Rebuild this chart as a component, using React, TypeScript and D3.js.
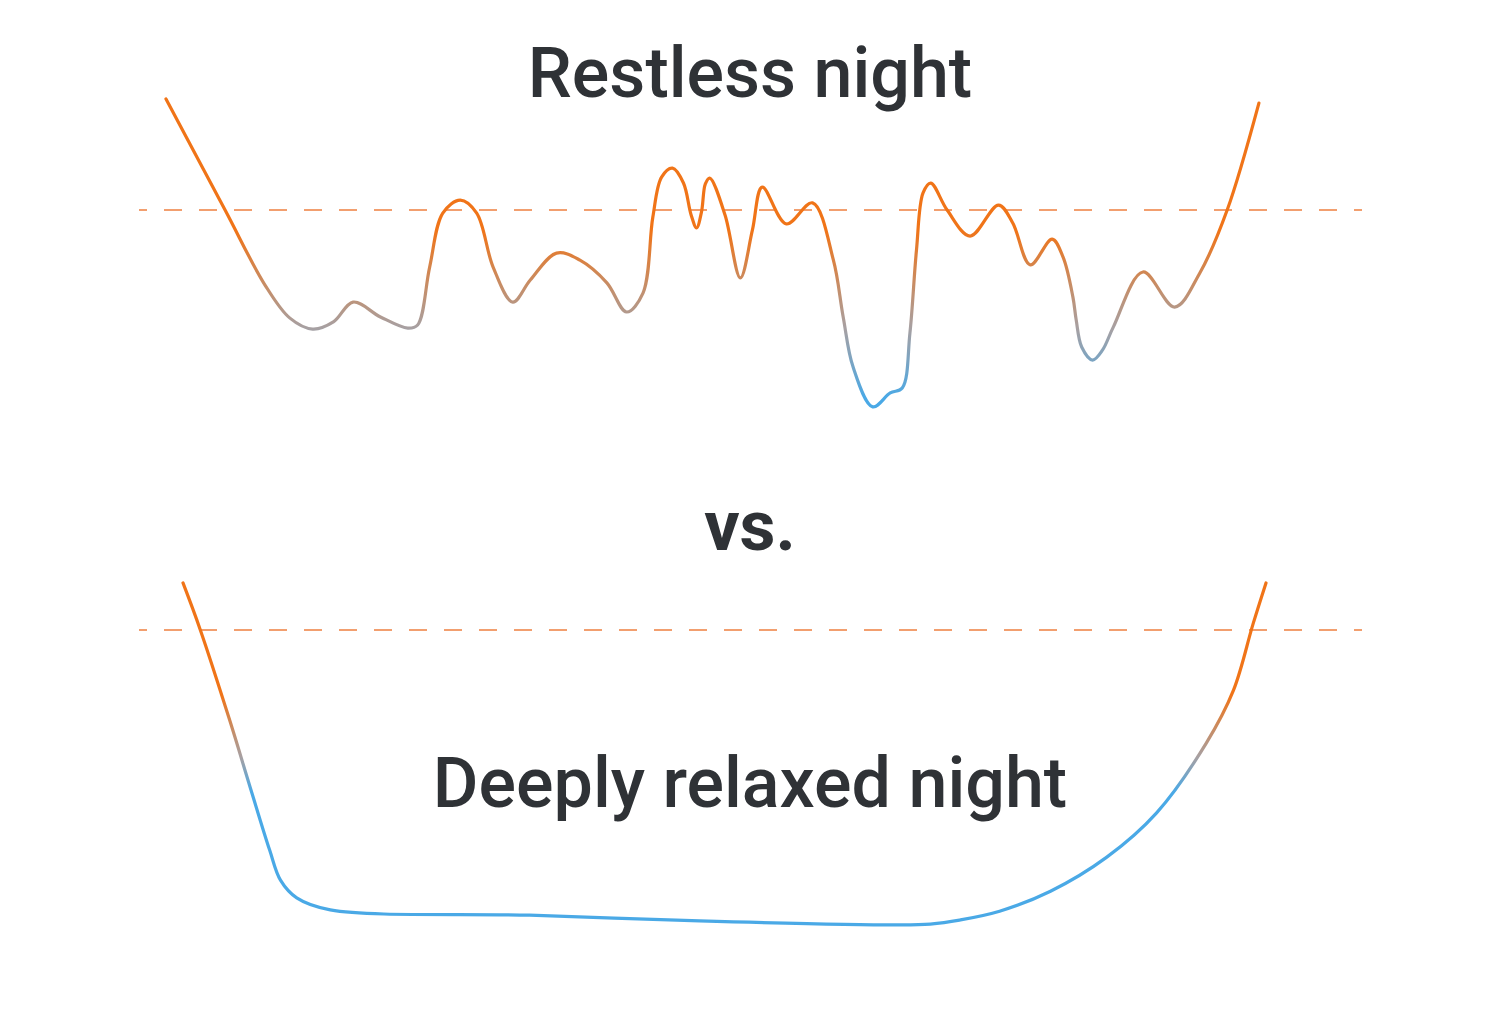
import React, { useEffect, useRef } from 'react';
import * as d3 from 'd3';

// Restless night: time (0-100 % of the night) vs. arousal level
const restlessTime = [
  0, 5.4, 9.05, 11.3, 13.4, 15.3, 17.1, 19.6, 22.1, 23.0, 24.1, 25.3, 26.9, 28.4, 29.9, 31.7,
  33.3, 35.7, 37.8, 40.3, 42.1, 43.6, 44.5, 45.3, 46.3, 47.3, 48.0, 48.5, 48.95, 49.3, 49.7,
  51.1, 52.5, 53.6, 54.5, 56.7, 59.1, 61.0, 61.9, 62.8, 64.6, 66.2, 67.3, 68.0, 68.6, 69.2,
  69.9, 71.4, 73.5, 76.1, 77.4, 79.0, 81.0, 82.0, 82.9, 83.2, 83.7, 84.7, 85.6, 86.6, 89.3,
  92.2, 94.5, 97.0, 99.9,
];
const restlessLevel = [
  105.8, 70.0, 45.8, 35.2, 31.6, 33.9, 40.3, 35.5, 31.9, 32.9, 51.6, 69.0, 73.2, 69.0, 51.6, 40.3,
  47.4, 56.1, 53.9, 46.5, 37.1, 43.2, 67.7, 80.6, 83.5, 78.7, 68.4, 64.2, 69.4, 78.4, 80.3,
  68.4, 48.1, 63.5, 77.4, 65.5, 72.3, 53.9, 35.5, 19.4, 6.5, 11.0, 12.6, 30.3, 57.1, 75.5,
  78.7, 70.0, 61.6, 71.6, 65.8, 52.3, 60.6, 54.8, 41.9, 34.5, 25.8, 21.6, 24.8, 32.3, 50.0,
  38.7, 49.7, 70.0, 104.5,
];

// Deeply relaxed night
const relaxedTime = [
  0, 1.6, 4.3, 6.2, 8.0, 9.0, 10.5, 13.6, 32.0, 47.7, 66.2, 69.0, 71.7, 75.4, 80.1, 85.3,
  89.9, 94.5, 97.0, 98.8, 100,
];
const relaxedLevel = [
  80.6, 70.0, 49.7, 34.5, 20.3, 13.5, 9.5, 6.8, 5.6, 4.3, 3.4, 3.6, 4.5, 6.5, 11.0, 18.7,
  28.7, 44.5, 56.4, 71.3, 80.6,
];

const threshold = 70;
const titles = ['Restless night', 'vs.', 'Deeply relaxed night'];

const ORANGE = '#f07418';
const GRAY = '#a7a0a2';
const BLUE = '#4aa9e6';

export default function App() {
  const svgRef = useRef<SVGSVGElement>(null);

  useEffect(() => {
    if (!svgRef.current) return;
    const width = 1500;
    const height = 1025;
    const svg = d3.select(svgRef.current);
    svg.selectAll('*').remove();
    svg.attr('width', width).attr('height', height);

    const defs = svg.append('defs');

    const panels = [
      {
        id: 'restless',
        time: restlessTime,
        level: restlessLevel,
        x: d3.scaleLinear().domain([0, 100]).range([166, 1260]),
        y: d3.scaleLinear().domain([0, 100]).range([427, 117]),
        stops: [230, 328, 398],
      },
      {
        id: 'relaxed',
        time: relaxedTime,
        level: relaxedLevel,
        x: d3.scaleLinear().domain([0, 100]).range([183, 1266]),
        y: d3.scaleLinear().domain([0, 100]).range([940, 497]),
        stops: [695, 757, 792],
      },
    ];

    panels.forEach((p) => {
      // vertical colour gradient: orange high, blue low
      const grad = defs
        .append('linearGradient')
        .attr('id', `grad-${p.id}`)
        .attr('gradientUnits', 'userSpaceOnUse')
        .attr('x1', 0)
        .attr('x2', 0)
        .attr('y1', p.stops[0])
        .attr('y2', p.stops[2]);
      const mid = (p.stops[1] - p.stops[0]) / (p.stops[2] - p.stops[0]);
      grad.append('stop').attr('offset', 0).attr('stop-color', ORANGE);
      grad.append('stop').attr('offset', mid).attr('stop-color', GRAY);
      grad.append('stop').attr('offset', 1).attr('stop-color', BLUE);

      // threshold line
      svg
        .append('line')
        .attr('x1', 139)
        .attr('x2', 1362)
        .attr('y1', p.y(threshold))
        .attr('y2', p.y(threshold))
        .attr('stroke', '#ee8040')
        .attr('stroke-width', 1.5)
        .attr('stroke-dasharray', '18 17')
        .attr('stroke-dashoffset', 10);

      const pts: [number, number][] = p.time.map((t, i) => [t, p.level[i]]);
      const line = d3
        .line<[number, number]>()
        .x((d) => p.x(d[0]))
        .y((d) => p.y(d[1]))
        .curve(d3.curveCatmullRom.alpha(0.5));

      svg
        .append('path')
        .attr('d', line(pts) || '')
        .attr('fill', 'none')
        .attr('stroke', `url(#grad-${p.id})`)
        .attr('stroke-width', 3.2)
        .attr('stroke-linecap', 'round')
        .attr('stroke-linejoin', 'round');
    });

    // Titles
    const textY = [97, 550, 807];
    svg
      .selectAll('text.title')
      .data(titles)
      .enter()
      .append('text')
      .attr('class', 'title')
      .attr('x', 750)
      .attr('y', (d, i) => textY[i])
      .attr('text-anchor', 'middle')
      .style('font-family', 'Roboto, sans-serif')
      .style('font-size', '70px')
      .style('font-weight', (d, i) => (i === 1 ? 700 : 500))
      .style('fill', '#2f3236')
      .text((d) => d);
  }, []);

  return (
    <div style={{ position: 'absolute', left: 0, top: 0, background: '#fff' }}>
      <svg ref={svgRef}></svg>
    </div>
  );
}
